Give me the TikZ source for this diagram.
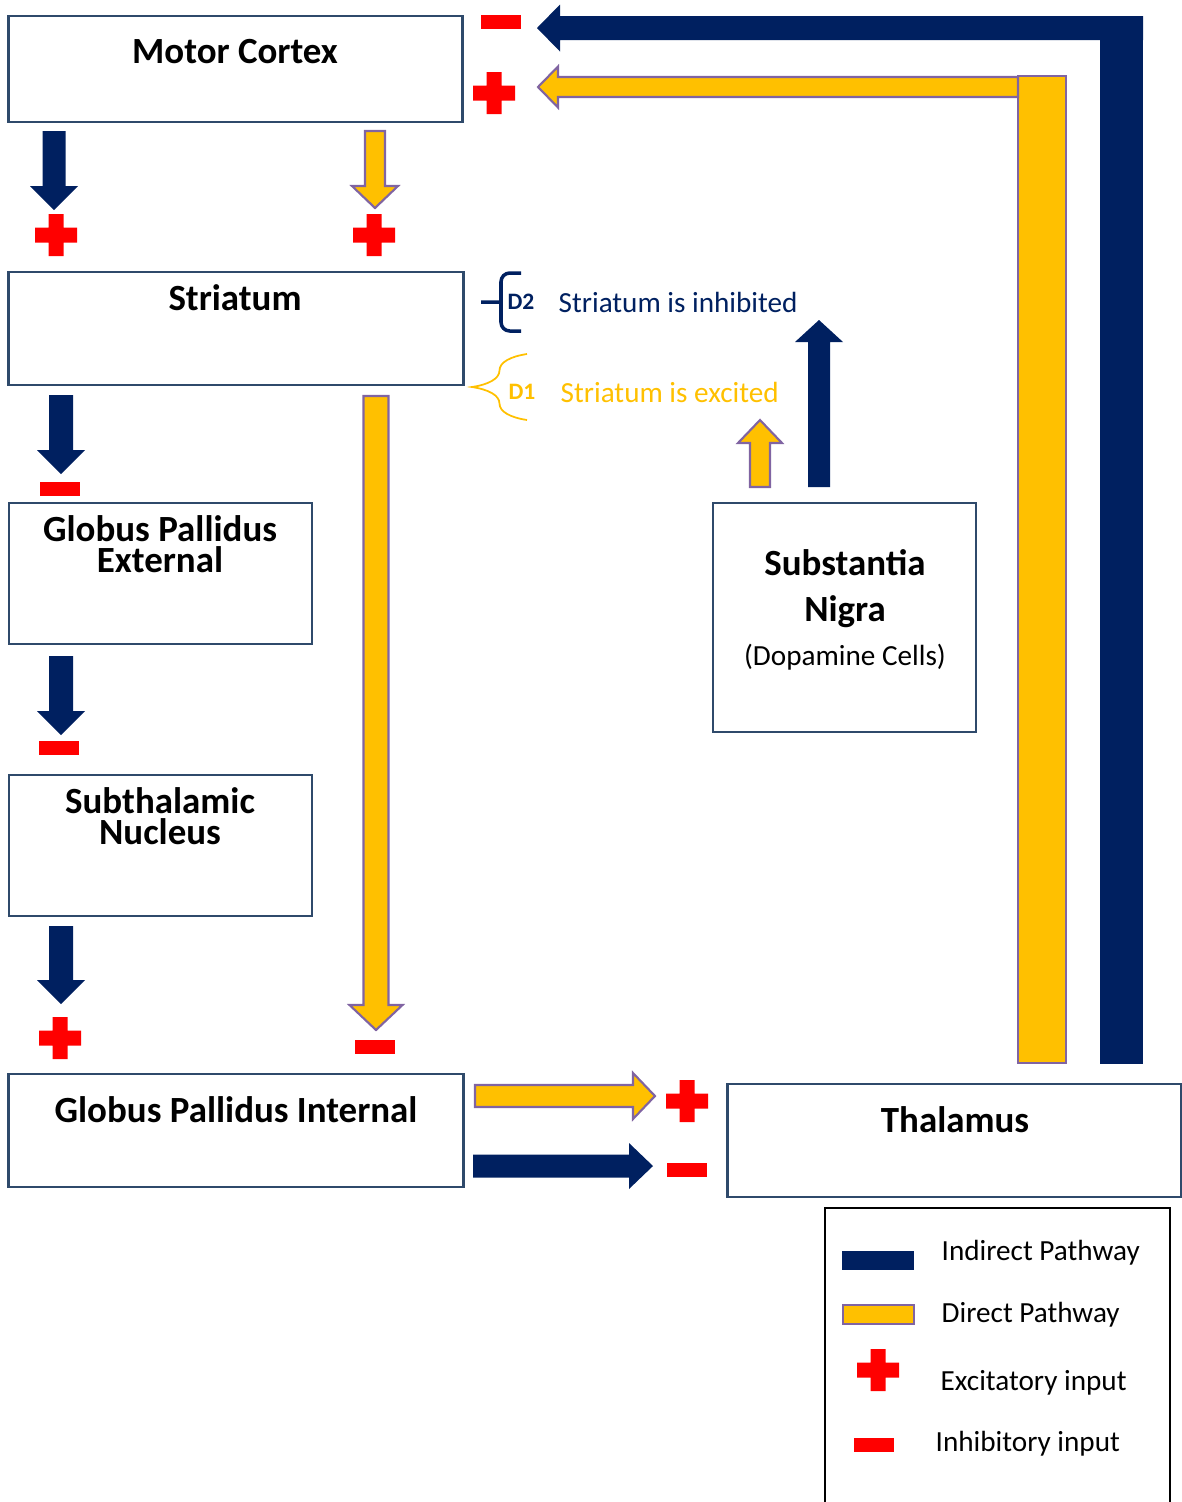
\documentclass[tikz,border=0pt]{standalone}
\usepackage{fontspec}
\setmainfont{Carlito}
\usepackage{tikz}
\usetikzlibrary{decorations.pathreplacing}

\definecolor{navy}{HTML}{002060}
\definecolor{gold}{HTML}{FFC000}
\definecolor{lilac}{HTML}{8064A2}
\definecolor{boxline}{HTML}{2F4A6B}

% block arrow: style, tail x, tail y, angle, length, half shaft, half head, head length
\newcommand{\blockarrow}[8]{%
  \path[#1, shift={(#2,#3)}, rotate=#4]
    (0,-#6) -- (#5-#8,-#6) -- (#5-#8,-#7) -- (#5,0)
    -- (#5-#8,#7) -- (#5-#8,#6) -- (0,#6) -- cycle;}
% red signs
\newcommand{\plussign}[2]{%
  \fill[red, shift={(#1,#2)}] (-7.5,-21) rectangle (7.5,21) (-21,-7.5) rectangle (21,7.5);}
\newcommand{\minussign}[2]{%
  \fill[red, shift={(#1,#2)}] (-20,-7) rectangle (20,7);}

\tikzset{
  region/.style={draw=boxline, line width=0.8pt, fill=white, inner sep=0pt},
  title/.style={font=\fontsize{10.5}{9}\selectfont\bfseries, align=center, inner sep=0pt},
  plain/.style={font=\fontsize{8.3}{10}\selectfont, inner sep=0pt},
  indirect/.style={fill=navy},
  direct/.style={fill=gold, draw=lilac, line width=0.6pt}
}

\begin{document}
\begin{tikzpicture}[x=0.01cm, y=-0.01cm]
  \useasboundingbox (0,0) rectangle (1181,1502);

  % Boxes
  \node[region, minimum width=4.53cm, minimum height=1.06cm] (mc) at (235.5,69) {};
  \node[region, minimum width=4.54cm, minimum height=1.13cm] (str) at (236,328.5) {};
  \node[region, minimum width=3.03cm, minimum height=1.41cm] (gpe) at (160.5,573.5) {};
  \node[region, minimum width=3.03cm, minimum height=1.41cm] (stn) at (160.5,845.5) {};
  \node[region, minimum width=4.54cm, minimum height=1.13cm] (gpi) at (236,1130.5) {};
  \node[region, minimum width=4.53cm, minimum height=1.13cm] (thal) at (954.5,1140.5) {};
  \node[region, minimum width=2.63cm, minimum height=2.29cm] (sn) at (844.5,617.5) {};

  % Titles
  \node[title] (mctext) at (235,52) {Motor Cortex};
  \node[title] (strtext) at (235,298) {Striatum};
  \node[title] (gpetext) at (160,544) {Globus Pallidus\\External};
  \node[title] (stntext) at (160,816) {Subthalamic\\Nucleus};
  \node[title] (gpitext) at (236,1110) {Globus Pallidus Internal};
  \node[title] (thaltext) at (955,1120) {Thalamus};
  \node[title] (sntext1) at (845,563) {Substantia};
  \node[title] (sntext2) at (845,612) {Nigra};
  \node[plain] (sntext3) at (845,657) {(Dopamine Cells)};

  % Feedback loop from thalamus
  \fill[navy] (1100,16) rectangle (1143,1064);
  \blockarrow{indirect}{1143}{28}{180}{606}{12}{23.5}{23}
  \draw[direct] (1018,76) rectangle (1066,1063);
  \blockarrow{direct}{1018}{87}{180}{480}{10}{20.5}{20}
  \minussign{501}{22}
  \plussign{494}{93}

  % Indirect pathway
  \blockarrow{indirect}{54}{131}{-90}{79}{11.5}{24}{24}
  \plussign{56}{235}
  \blockarrow{indirect}{61}{395}{-90}{79}{12}{24}{24}
  \minussign{60}{489}
  \blockarrow{indirect}{61}{656}{-90}{79}{12}{24}{24}
  \minussign{59}{748}
  \blockarrow{indirect}{61}{926}{-90}{78}{12}{24}{24}
  \plussign{60}{1038}
  \blockarrow{indirect}{473}{1166}{0}{180}{11.5}{23}{24}
  \minussign{687}{1170}

  % Direct pathway
  \blockarrow{direct}{375}{131}{-90}{77}{10}{23}{22}
  \plussign{374}{235}
  \blockarrow{direct}{376}{396}{-90}{634}{12.5}{26.5}{25}
  \minussign{375}{1047}
  \blockarrow{direct}{475}{1096}{0}{180}{11}{23}{22}
  \plussign{687}{1101}

  % Dopamine
  \blockarrow{direct}{760}{487}{90}{67}{10}{22}{23}
  \blockarrow{indirect}{819}{487}{90}{167}{11}{24}{22}

  % Receptors
  \draw[navy, line width=1pt, rounded corners=2.5pt]
    (521,273) -- (501,273) -- (501,331) -- (521,331)
    (501,302) -- (481,302);
  \node[font=\fontsize{6.7}{8}\selectfont\bfseries, text=navy, inner sep=0pt] (dtwo) at (521,302) {D2};
  \node[plain, text=navy, anchor=west] (dtwotext) at (558,302) {Striatum is inhibited};
  \draw[gold, line width=0.5pt, decorate, decoration={brace, amplitude=0.55cm}]
    (527,420) -- (527,354);
  \node[font=\fontsize{6.7}{8}\selectfont\bfseries, text=gold, inner sep=0pt] (done) at (522,392) {D1};
  \node[plain, text=gold, anchor=west] (donetext) at (560,392) {Striatum is excited};

  % Legend
  \draw[black, line width=0.5pt] (825,1510) |- (1170,1208) -- (1170,1510);
  \fill[navy] (842,1251) rectangle (914,1270);
  \draw[direct] (843,1305) rectangle (914,1324);
  \plussign{878}{1370}
  \minussign{874}{1445}
  \node[plain, anchor=west] (legone) at (941,1253) {Indirect Pathway};
  \node[plain, anchor=west] (legtwo) at (941,1315) {Direct Pathway};
  \node[plain, anchor=west] (legthree) at (940,1383) {Excitatory input};
  \node[plain, anchor=west] (legfour) at (935,1444) {Inhibitory input};
\end{tikzpicture}
\end{document}
